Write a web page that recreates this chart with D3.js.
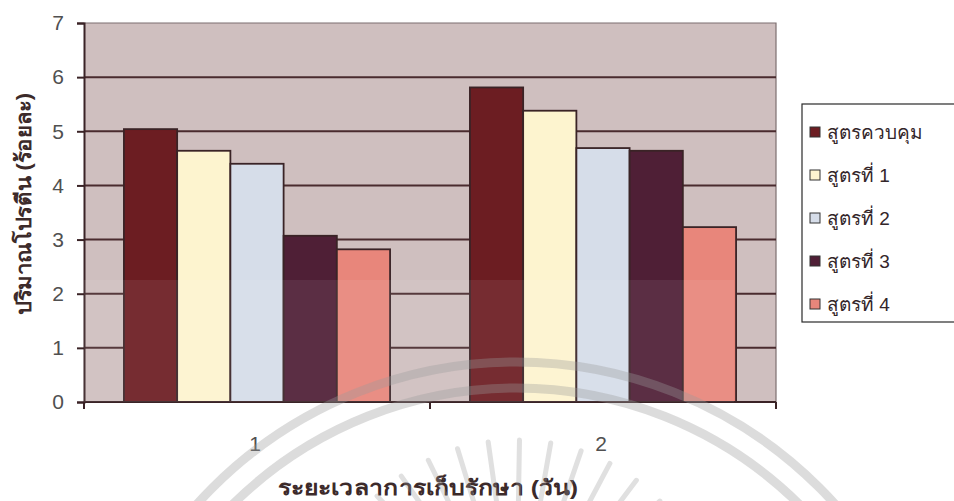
<!DOCTYPE html>
<html>
<head>
<meta charset="utf-8">
<script src="https://cdn.jsdelivr.net/npm/d3@7"></script>
<style>
  html, body { margin: 0; padding: 0; background: #ffffff; }
  svg { display: block; }
  text { font-family: "Liberation Sans", Arial, "Noto Sans", sans-serif; }
</style>
</head>
<body>
<svg id="chart" width="954" height="501"></svg>
<script>
// Storage period (days) on the x axis
const categories = ["1", "2"];
// Formulas shown in the legend
const seriesNames = ["สูตรควบคุม", "สูตรที่ 1", "สูตรที่ 2", "สูตรที่ 3", "สูตรที่ 4"];
// Protein content (%) per formula, one value per storage day
const controlValues  = [5.04, 5.81];
const formula1Values = [4.64, 5.38];
const formula2Values = [4.40, 4.69];
const formula3Values = [3.07, 4.64];
const formula4Values = [2.82, 3.23];
const yTicks = [0, 1, 2, 3, 4, 5, 6, 7];
const seriesColors = ["#6c1d22", "#fdf4cf", "#d6dde9", "#4f1f36", "#e8867b"];

const seriesValues = [controlValues, formula1Values, formula2Values, formula3Values, formula4Values];
const rows = categories.map((c, i) => ({
  cat: c,
  bars: seriesNames.map((s, j) => ({ name: s, value: seriesValues[j][i], color: seriesColors[j] }))
}));

const svg = d3.select("#chart");
const plot = { left: 84, right: 776, top: 23, bottom: 402 };

const y = d3.scaleLinear().domain([0, 7]).range([plot.bottom, plot.top]);
const x0 = d3.scaleBand().domain(categories)
  .range([plot.left, plot.right])
  .paddingInner(1.5 / 6.5)
  .paddingOuter(0.75 / 6.5);
const x1 = d3.scaleBand().domain(seriesNames).range([0, x0.bandwidth()]);

// plot background
svg.append("rect")
  .attr("x", plot.left).attr("y", plot.top)
  .attr("width", plot.right - plot.left).attr("height", plot.bottom - plot.top)
  .attr("fill", "#cfbfbf");

// top and right border
svg.append("path")
  .attr("d", `M${plot.left},${plot.top}H${plot.right}V${plot.bottom}`)
  .attr("fill", "none").attr("stroke", "#7d6f70").attr("stroke-width", 1.2);

// horizontal gridlines
svg.append("g").selectAll("line")
  .data(yTicks.filter(t => t > 0 && t < 7))
  .join("line")
  .attr("x1", plot.left).attr("x2", plot.right)
  .attr("y1", d => y(d)).attr("y2", d => y(d))
  .attr("stroke", "#4a2b2e").attr("stroke-width", 2);

// bars
const groups = svg.append("g").selectAll("g")
  .data(rows).join("g")
  .attr("transform", d => `translate(${x0(d.cat)},0)`);
groups.selectAll("rect")
  .data(d => d.bars).join("rect")
  .attr("x", d => x1(d.name))
  .attr("width", x1.bandwidth())
  .attr("y", d => y(d.value))
  .attr("height", d => y(0) - y(d.value))
  .attr("fill", d => d.color)
  .attr("stroke", "#3a2326").attr("stroke-width", 1.8);

// y axis
const yAxis = svg.append("g")
  .attr("transform", `translate(${plot.left},0)`)
  .call(d3.axisLeft(y).tickValues(yTicks).tickFormat(d3.format("d")).tickSize(7).tickPadding(13));
yAxis.select(".domain").attr("stroke", "#3a2326").attr("stroke-width", 2);
yAxis.selectAll(".tick line").attr("stroke", "#3a2326").attr("stroke-width", 2);
yAxis.selectAll(".tick text").attr("fill", "#505050").style("font-size", "21px");

// x axis: ticks sit at category boundaries, labels centred in each category
const xAxis = svg.append("g").attr("transform", `translate(0,${plot.bottom})`);
xAxis.append("line")
  .attr("x1", plot.left).attr("x2", plot.right)
  .attr("stroke", "#3a2326").attr("stroke-width", 2);
const boundaries = [plot.left].concat(categories.map(c => x0(c) + x0.bandwidth() + x0.step() * x0.paddingInner() / 2));
boundaries[boundaries.length - 1] = plot.right;
xAxis.selectAll("line.tk").data(boundaries).join("line").attr("class", "tk")
  .attr("x1", d => d).attr("x2", d => d).attr("y1", 0).attr("y2", 7)
  .attr("stroke", "#3a2326").attr("stroke-width", 2);
xAxis.selectAll("text").data(categories).join("text")
  .attr("x", d => x0(d) + x0.bandwidth() / 2 - 2)
  .attr("y", 49)
  .attr("text-anchor", "middle")
  .attr("fill", "#505050").style("font-size", "21px")
  .text(d => d);

// axis titles
svg.append("text")
  .attr("x", 428).attr("y", 495)
  .attr("text-anchor", "middle")
  .attr("textLength", 300).attr("lengthAdjust", "spacingAndGlyphs")
  .attr("fill", "#3c2a2a").style("font-size", "21px").style("font-weight", "bold")
  .text("ระยะเวลาการเก็บรักษา (วัน)");
svg.append("text")
  .attr("transform", "translate(31,204) rotate(-90)")
  .attr("text-anchor", "middle")
  .attr("textLength", 222).attr("lengthAdjust", "spacingAndGlyphs")
  .attr("fill", "#3c2a2a").style("font-size", "21px").style("font-weight", "bold")
  .text("ปริมาณโปรตีน (ร้อยละ)");

// legend
const legend = svg.append("g");
legend.append("rect")
  .attr("x", 802).attr("y", 104).attr("width", 170).attr("height", 218)
  .attr("fill", "#ffffff").attr("stroke", "#2a2a2a").attr("stroke-width", 1.2);
const legendItems = legend.selectAll("g.item")
  .data(seriesNames.map((s, i) => ({ name: s, color: seriesColors[i] })))
  .join("g").attr("class", "item")
  .attr("transform", (d, i) => `translate(810,${132 + i * 43})`);
legendItems.append("rect")
  .attr("x", 0).attr("y", -5).attr("width", 10).attr("height", 10)
  .attr("fill", d => d.color).attr("stroke", "#333").attr("stroke-width", 1);
legendItems.append("text")
  .attr("x", 17).attr("y", 7)
  .attr("fill", "#33262a").style("font-size", "19px")
  .text(d => d.name);

// faint emblem printed across the lower part of the page
const mark = svg.append("g").attr("pointer-events", "none");
mark.append("rect")
  .attr("x", 84).attr("y", 280).attr("width", 650).attr("height", 122)
  .attr("fill", "#ffffff").attr("opacity", 0.07);
[429, 403].forEach(r => {
  mark.append("circle")
    .attr("cx", 516).attr("cy", 791).attr("r", r)
    .attr("fill", "none").attr("stroke", "#9a9a9a").attr("stroke-width", 9).attr("opacity", 0.35);
});
const rays = d3.range(-62, 63, 9);
mark.selectAll("line.ray").data(rays).join("line").attr("class", "ray")
  .attr("x1", a => 516 + 200 * Math.sin(a * Math.PI / 180))
  .attr("y1", a => 640 - 200 * Math.cos(a * Math.PI / 180))
  .attr("x2", a => 516 + 140 * Math.sin(a * Math.PI / 180))
  .attr("y2", a => 640 - 140 * Math.cos(a * Math.PI / 180))
  .attr("stroke", "#9a9a9a").attr("stroke-width", 5).attr("stroke-linecap", "round").attr("opacity", 0.3);
</script>
</body>
</html>
